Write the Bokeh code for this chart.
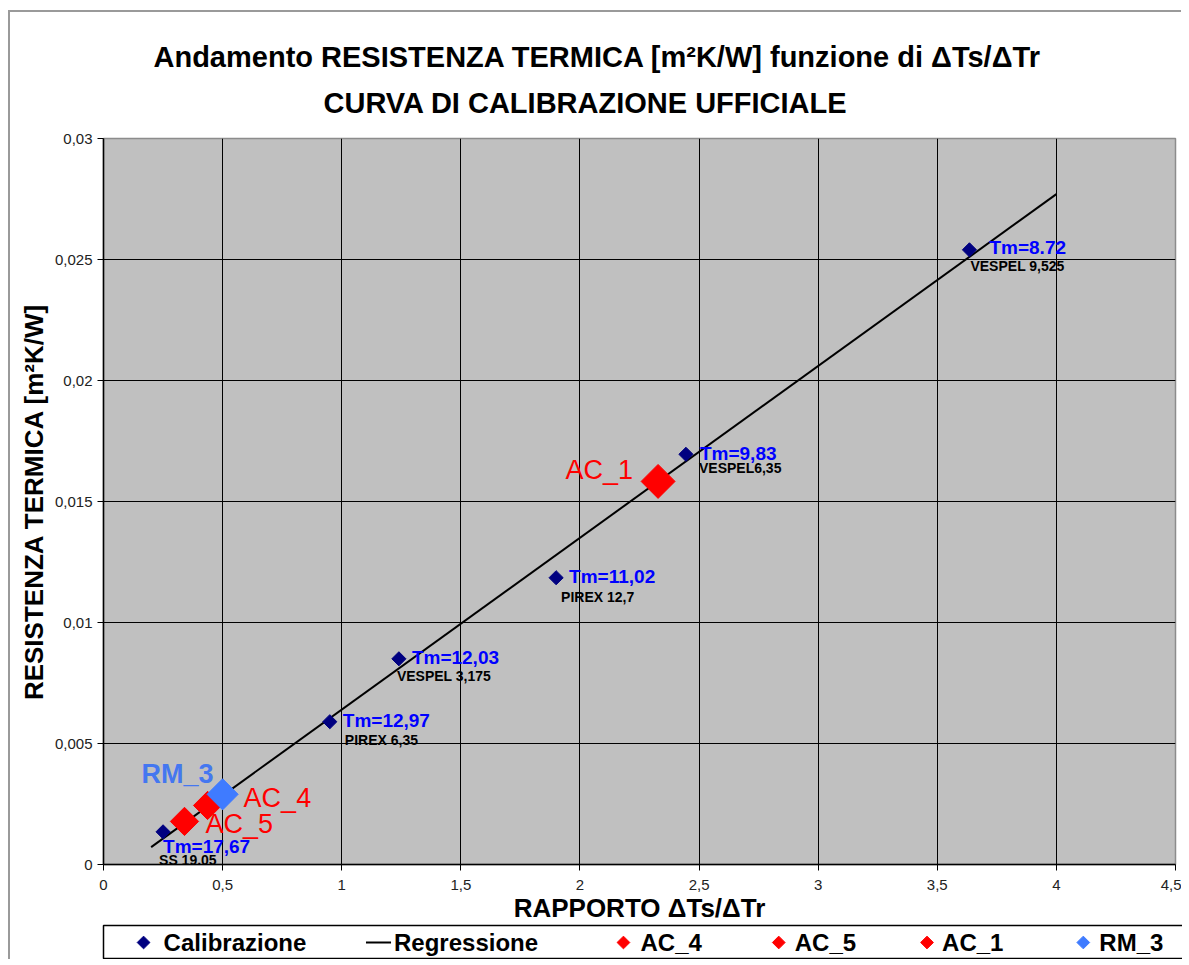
import math
from bokeh.plotting import figure
from bokeh.layouts import column
from bokeh.models import (Range1d, FixedTicker, CustomJSTickFormatter,
                          ColumnDataSource, LabelSet, Label, Title)
from bokeh.core.properties import value
from bokeh.embed import file_html
from bokeh.resources import INLINE

FONT = "Liberation Sans"

# ---------------- data ----------------
calib_x = [0.25, 0.95, 1.24, 1.90, 2.445, 3.635]
calib_y = [0.00135, 0.0059, 0.0085, 0.01185, 0.01695, 0.0254]
calib_tm = ["Tm=17,67", "Tm=12,97", "Tm=12,03", "Tm=11,02", "Tm=9,83", "Tm=8.72"]
calib_mat = ["SS 19,05", "PIREX 6,35", "VESPEL 3,175", "PIREX 12,7", "VESPEL6,35", "VESPEL 9,525"]

reg_x = [0.2, 4.0]
reg_y = [0.00072, 0.0277]

ac4_x, ac4_y = [0.437], [0.00244]
ac5_x, ac5_y = [0.34], [0.00178]
ac1_x, ac1_y = [2.328], [0.01583]
rm3_x, rm3_y = [0.50], [0.0029]

x_ticks = [0, 0.5, 1, 1.5, 2, 2.5, 3, 3.5, 4, 4.5]
y_ticks = [0, 0.005, 0.01, 0.015, 0.02, 0.025, 0.03]

title_lines = ["Andamento RESISTENZA TERMICA [m\u00b2K/W] funzione di \u0394Ts/\u0394Tr",
               "CURVA DI CALIBRAZIONE UFFICIALE"]
x_label = "RAPPORTO \u0394Ts/\u0394Tr"
y_label = "RESISTENZA TERMICA [m\u00b2K/W]"

legend_labels = ["Calibrazione", "Regressione", "AC_4", "AC_5", "AC_1", "RM_3"]

# label offsets in screen pixels (placement of data labels)
tm_dx = [0, 13, 13, 13, 14, 20]
tm_dy = [-15, 1, 1, 1, 1, 2]
mat_dx = [-4, 15, -2, 5, 13, 1]
mat_dy = [-28, -18, -17, -19, -14, -16]

NAVY = "#000080"
RED = "#FF0000"
BLUE_RM = "#3F7BFF"
BORDER = "2px solid #9a9a9a"

p = figure(frame_width=1070, frame_height=724, title=None,
           x_range=Range1d(0, 4.5), y_range=Range1d(0, 0.03),
           output_backend="svg", toolbar_location=None,
           min_border_left=93, min_border_top=126, min_border_right=8, min_border_bottom=0,
           background_fill_color="#C0C0C0", border_fill_color="white")
p.styles = {"border-top": BORDER, "border-left": BORDER}

p.outline_line_color = "#8c8c8c"
p.outline_line_width = 1.5

fmt = CustomJSTickFormatter(code="return tick.toString().replace('.', ',');")
for ax, ticks, lab in ((p.xaxis[0], x_ticks, x_label), (p.yaxis[0], y_ticks, y_label)):
    ax.ticker = FixedTicker(ticks=ticks)
    ax.formatter = fmt
    ax.axis_line_color = "black"
    ax.axis_line_width = 1.5
    ax.major_tick_line_color = "black"
    ax.major_tick_out = 6
    ax.major_tick_in = 0
    ax.minor_tick_line_color = None
    ax.major_label_text_font = FONT
    ax.major_label_text_font_size = "15px"
    ax.major_label_text_color = "#222222"
    ax.axis_label = lab
    ax.axis_label_text_font = FONT
    ax.axis_label_text_font_size = "26px"
    ax.axis_label_text_font_style = "bold"
    ax.axis_label_text_color = "black"
p.xaxis[0].major_label_standoff = 9
p.xaxis[0].axis_label_standoff = 0
p.yaxis[0].major_label_standoff = 5
p.yaxis[0].axis_label_standoff = 3

p.xgrid.ticker = FixedTicker(ticks=x_ticks[1:-1])
p.ygrid.ticker = FixedTicker(ticks=y_ticks[1:-1])
for g in (p.xgrid[0], p.ygrid[0]):
    g.grid_line_color = "black"
    g.grid_line_width = 1

ANG = math.pi / 4
p.line(reg_x, reg_y, line_color="black", line_width=2)
calib_src = ColumnDataSource(dict(x=calib_x, y=calib_y, tm=calib_tm, mat=calib_mat,
                                  tm_dx=tm_dx, tm_dy=tm_dy, mat_dx=mat_dx, mat_dy=mat_dy))
p.scatter("x", "y", source=calib_src, marker="square", angle=ANG, size=10,
          fill_color=NAVY, line_color=NAVY)
p.scatter(ac5_x, ac5_y, marker="square", angle=ANG, size=20, fill_color=RED, line_color=RED)
p.scatter(ac4_x, ac4_y, marker="square", angle=ANG, size=20, fill_color=RED, line_color=RED)
p.scatter(rm3_x, rm3_y, marker="square", angle=ANG, size=22, fill_color=BLUE_RM, line_color=BLUE_RM)
p.scatter(ac1_x, ac1_y, marker="square", angle=ANG, size=24, fill_color=RED, line_color=RED)

p.add_layout(LabelSet(x="x", y="y", text="tm", source=calib_src, x_offset="tm_dx", y_offset="tm_dy",
                      text_font=value(FONT), text_font_size="19px", text_font_style="bold",
                      text_color="#0000FF", text_align="left", text_baseline="middle"))
p.add_layout(LabelSet(x="x", y="y", text="mat", source=calib_src, x_offset="mat_dx", y_offset="mat_dy",
                      text_font=value(FONT), text_font_size="14px", text_font_style="bold",
                      text_color="black", text_align="left", text_baseline="middle"))

big = dict(text_font=FONT, text_font_size="27px", text_baseline="middle")
p.add_layout(Label(x=ac1_x[0], y=ac1_y[0], text="AC_1", x_offset=-25, y_offset=11,
                   text_align="right", text_color=RED, **big))
p.add_layout(Label(x=ac4_x[0], y=ac4_y[0], text="AC_4", x_offset=36, y_offset=7,
                   text_align="left", text_color=RED, **big))
p.add_layout(Label(x=ac5_x[0], y=ac5_y[0], text="AC_5", x_offset=21, y_offset=-3,
                   text_align="left", text_color=RED, **big))
p.add_layout(Label(x=rm3_x[0], y=rm3_y[0], text="RM_3", x_offset=-9, y_offset=20,
                   text_align="right", text_color="#4477F0", text_font_style="bold", **big))

# chart title: two lines above the frame (inner line added first)
p.add_layout(Title(text=title_lines[1], align="left", offset=220, standoff=40,
                   text_font=FONT, text_font_size="29px", text_font_style="bold",
                   text_color="black"), "above")
p.add_layout(Title(text=title_lines[0], align="left", offset=50, standoff=-16,
                   text_font=FONT, text_font_size="29px", text_font_style="bold",
                   text_color="black"), "above")

# ---------------- legend strip (separate small figure) ----------------
leg = figure(frame_width=1084, frame_height=34, title=None,
             x_range=Range1d(0, 1084), y_range=Range1d(0, 34),
             x_axis_type=None, y_axis_type=None,
             output_backend="svg", toolbar_location=None,
             min_border_left=88, min_border_right=0, min_border_top=2, min_border_bottom=0,
             background_fill_color="white", border_fill_color="white")
leg.styles = {"border-left": BORDER}
leg.outline_line_color = "black"
leg.outline_line_width = 1.5
leg.xgrid.visible = False
leg.ygrid.visible = False

leg_marker_x = [40, 519, 674, 822, 978]
leg_marker_c = [NAVY, RED, RED, RED, BLUE_RM]
leg_text_x = [60, 290, 536, 690, 837, 994]
leg.scatter(leg_marker_x, [17] * 5, marker="square", angle=ANG, size=9,
            fill_color=leg_marker_c, line_color=leg_marker_c)
leg.line([262, 287], [17, 17], line_color="black", line_width=2)
leg.text(leg_text_x, [17] * 6, text=legend_labels, text_font=value(FONT),
         text_font_size="24px", text_font_style="bold", text_color="black",
         text_align="left", text_baseline="middle")

layout = column(p, leg, spacing=0)
layout.styles = {"margin-left": "8px", "margin-top": "10px"}

open("out.html", "w").write(file_html(layout, INLINE))
